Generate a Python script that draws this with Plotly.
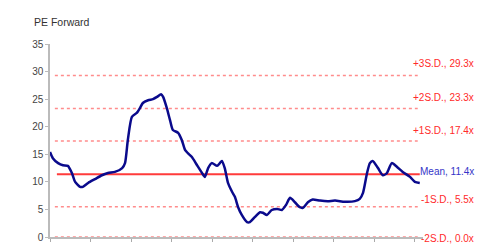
import plotly.graph_objects as go

# PE forward series (x = years from start, y = PE multiple)
years = [0.00, 0.07, 0.20, 0.32, 0.44, 0.54, 0.62, 0.74, 0.81, 0.94, 1.11, 1.28, 1.43, 1.60,
         1.78, 1.85, 1.92, 2.02, 2.14, 2.22, 2.29, 2.42, 2.54, 2.64, 2.74, 2.79, 2.88, 2.96,
         3.03, 3.16, 3.25, 3.33, 3.40, 3.50, 3.62, 3.75, 3.82, 3.90, 3.99, 4.12, 4.19, 4.24,
         4.31, 4.39, 4.49, 4.56, 4.64, 4.73, 4.86, 4.93, 5.05, 5.18, 5.25, 5.35, 5.47, 5.60,
         5.72, 5.82, 5.92, 6.04, 6.16, 6.24, 6.36, 6.48, 6.66, 6.85, 7.03, 7.27, 7.52, 7.64,
         7.72, 7.82, 7.89, 7.96, 8.09, 8.21, 8.31, 8.43, 8.56, 8.70, 8.88, 9.00, 9.12]
pe = [15.4, 14.3, 13.4, 13.0, 12.9, 11.6, 10.0, 9.1, 9.1, 9.8, 10.5, 11.2, 11.6, 11.8,
      12.5, 13.4, 17.6, 21.8, 22.5, 23.4, 24.3, 24.8, 25.0, 25.4, 25.9, 25.4, 23.4, 21.2,
      19.4, 18.9, 17.6, 15.8, 15.2, 14.5, 13.1, 11.6, 10.9, 12.5, 13.4, 12.9, 13.4, 13.8,
      12.5, 9.8, 8.2, 7.3, 5.4, 4.0, 2.7, 2.7, 3.6, 4.5, 4.4, 4.0, 4.9, 5.1,
      4.9, 5.8, 7.1, 6.3, 5.4, 5.3, 6.3, 6.8, 6.6, 6.5, 6.6, 6.4, 6.5, 6.9,
      8.0, 11.6, 13.4, 13.8, 12.5, 11.2, 11.6, 13.4, 12.7, 11.8, 10.9, 10.0, 9.8]

band_names = ["+3S.D.", "+2S.D.", "+1S.D.", "Mean", "-1S.D.", "-2S.D."]
band_values = [29.3, 23.3, 17.4, 11.4, 5.5, 0.0]

y_ticks = [0, 5, 10, 15, 20, 25, 30, 35]
x_ticks = [0, 1, 2, 3, 4, 5, 6, 7, 8, 9]

FONT = "Liberation Sans, Arial"

fig = go.Figure()

fig.add_trace(go.Scatter(
    x=years, y=pe, mode="lines",
    line=dict(color="#0A0A8C", width=2.5, shape="spline", smoothing=0.6),
    showlegend=False, hoverinfo="skip",
))

label_shift = [12, 11, 11, 3, 7, -1]
for name, val, ys in zip(band_names, band_values, label_shift):
    is_mean = name == "Mean"
    if is_mean:
        fig.add_shape(type="line", xref="x", yref="y",
                      x0=years[0] + 0.17, x1=years[-1], y0=val, y1=val,
                      line=dict(color="#FF3B3B", width=2), layer="below")
    else:
        fig.add_shape(type="line", xref="x", yref="y",
                      x0=years[0] + 0.12, x1=years[-1] - 0.05, y0=val, y1=val,
                      line=dict(color="#FF8C8C", width=1.5, dash="dot"), layer="below")
    fig.add_annotation(
        xref="paper", yref="y", x=1.142, y=val, yshift=ys,
        text=f"{name}, {val:.1f}x", showarrow=False, xanchor="right", yanchor="middle",
        font=dict(family=FONT, size=10, color="#3535C8" if is_mean else "#FF2A2A"),
    )

fig.add_annotation(
    xref="paper", yref="paper", x=-0.048, y=1.114, text="PE Forward", showarrow=False,
    xanchor="left", yanchor="middle",
    font=dict(family=FONT, size=10.5, color="#333333"),
)

fig.update_layout(
    width=488, height=244,
    margin=dict(l=50, r=65, t=44, b=7, autoexpand=False),
    paper_bgcolor="white", plot_bgcolor="white",
    font=dict(family=FONT, size=10, color="#444444"),
    xaxis=dict(range=[0, 9.2], tickvals=x_ticks, showticklabels=False, automargin=False,
               ticks="outside", ticklen=3, tickcolor="#AAAAAA",
               showline=True, linecolor="#BBBBBB", linewidth=1.5,
               showgrid=False, zeroline=False),
    yaxis=dict(range=[0, 35], tickvals=y_ticks, ticks="outside", ticklen=3, automargin=False,
               tickcolor="#BBBBBB", showline=True, linecolor="#BBBBBB", linewidth=1.5,
               showgrid=False, zeroline=False, tickfont=dict(size=10, color="#444444")),
)

# remove the browser's default 8px page margin so the 488x244 figure fills the window
fig.write_html("out.html", config={"displayModeBar": False},
               post_script="document.body.style.margin='0';document.body.style.overflow='hidden';")
